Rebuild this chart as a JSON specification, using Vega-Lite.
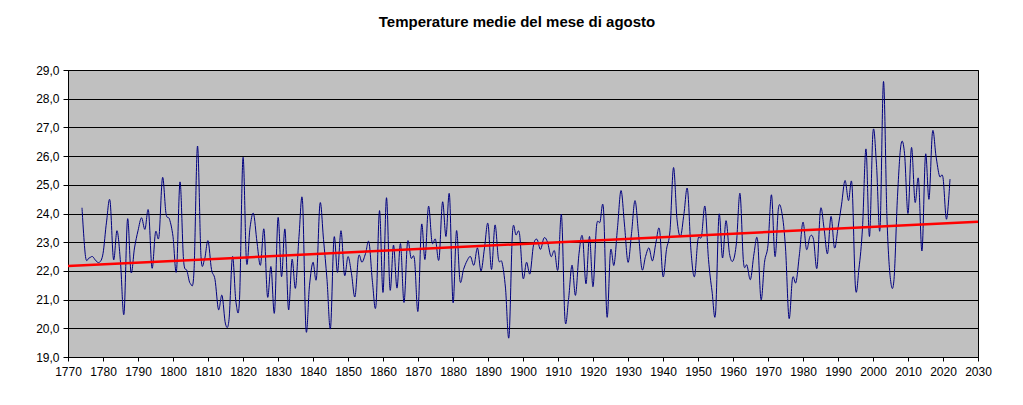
{
"$schema": "https://vega.github.io/schema/vega-lite/v6.json",
"width": 910,
"height": 287,
"autosize": {"type": "none"},
"padding": {"left": 68, "top": 70, "right": 45, "bottom": 48},
"background": "white",
"title": {"text": "Temperature medie del mese di agosto", "fontSize": 15, "fontWeight": "bold", "font": "Liberation Sans", "color": "#000000", "anchor": "middle", "frame": "group", "offset": 34, "dx": -6},
"config": {
  "view": {"fill": "#C0C0C0", "stroke": "#000000", "strokeWidth": 1},
  "axis": {"labelFont": "Liberation Sans", "labelFontSize": 12, "labelColor": "#000000", "domainColor": "#000000", "tickColor": "#000000", "title": null}
},
"datasets": {
"temps": [
{"year":1774,"temp":24.2},{"year":1775,"temp":22.5},{"year":1776,"temp":22.45},{"year":1777,"temp":22.5},{"year":1778,"temp":22.35},{"year":1779,"temp":22.3},
{"year":1780,"temp":22.6},{"year":1781,"temp":23.7},{"year":1782,"temp":24.45},{"year":1783,"temp":22.4},{"year":1784,"temp":23.4},{"year":1785,"temp":22.3},{"year":1786,"temp":20.5},{"year":1787,"temp":23.8},{"year":1788,"temp":21.95},{"year":1789,"temp":22.8},
{"year":1790,"temp":23.4},{"year":1791,"temp":23.85},{"year":1792,"temp":23.45},{"year":1793,"temp":24.1},{"year":1794,"temp":22.1},{"year":1795,"temp":23.35},{"year":1796,"temp":23.2},{"year":1797,"temp":25.25},{"year":1798,"temp":24.0},{"year":1799,"temp":23.8},
{"year":1800,"temp":23.2},{"year":1801,"temp":22.0},{"year":1802,"temp":25.1},{"year":1803,"temp":22.4},{"year":1804,"temp":22.0},{"year":1805,"temp":21.55},{"year":1806,"temp":22.0},{"year":1807,"temp":26.35},{"year":1808,"temp":22.5},{"year":1809,"temp":22.4},
{"year":1810,"temp":23.05},{"year":1811,"temp":22.05},{"year":1812,"temp":21.7},{"year":1813,"temp":20.65},{"year":1814,"temp":21.15},{"year":1815,"temp":20.15},{"year":1816,"temp":20.3},{"year":1817,"temp":22.5},{"year":1818,"temp":20.9},{"year":1819,"temp":21.0},
{"year":1820,"temp":25.95},{"year":1821,"temp":22.3},{"year":1822,"temp":23.5},{"year":1823,"temp":24.0},{"year":1824,"temp":23.0},{"year":1825,"temp":22.2},{"year":1826,"temp":23.45},{"year":1827,"temp":21.1},{"year":1828,"temp":22.15},{"year":1829,"temp":20.55},
{"year":1830,"temp":23.85},{"year":1831,"temp":21.8},{"year":1832,"temp":23.45},{"year":1833,"temp":20.65},{"year":1834,"temp":22.4},{"year":1835,"temp":21.4},{"year":1836,"temp":23.2},{"year":1837,"temp":24.45},{"year":1838,"temp":19.95},{"year":1839,"temp":21.5},
{"year":1840,"temp":22.3},{"year":1841,"temp":21.75},{"year":1842,"temp":24.35},{"year":1843,"temp":23.1},{"year":1844,"temp":21.7},{"year":1845,"temp":20.0},{"year":1846,"temp":23.15},{"year":1847,"temp":21.95},{"year":1848,"temp":23.4},{"year":1849,"temp":21.85},
{"year":1850,"temp":22.5},{"year":1851,"temp":21.9},{"year":1852,"temp":21.1},{"year":1853,"temp":22.5},{"year":1854,"temp":22.3},{"year":1855,"temp":22.6},{"year":1856,"temp":23.0},{"year":1857,"temp":21.6},{"year":1858,"temp":20.8},{"year":1859,"temp":24.1},
{"year":1860,"temp":21.25},{"year":1861,"temp":24.55},{"year":1862,"temp":21.35},{"year":1863,"temp":22.9},{"year":1864,"temp":21.4},{"year":1865,"temp":22.95},{"year":1866,"temp":20.9},{"year":1867,"temp":23.0},{"year":1868,"temp":22.45},{"year":1869,"temp":22.4},
{"year":1870,"temp":20.6},{"year":1871,"temp":23.6},{"year":1872,"temp":22.4},{"year":1873,"temp":24.25},{"year":1874,"temp":23.0},{"year":1875,"temp":23.1},{"year":1876,"temp":22.4},{"year":1877,"temp":24.4},{"year":1878,"temp":23.2},{"year":1879,"temp":24.65},
{"year":1880,"temp":20.9},{"year":1881,"temp":23.4},{"year":1882,"temp":21.65},{"year":1883,"temp":22.05},{"year":1884,"temp":22.35},{"year":1885,"temp":22.5},{"year":1886,"temp":22.2},{"year":1887,"temp":22.8},{"year":1888,"temp":22.0},{"year":1889,"temp":22.8},
{"year":1890,"temp":23.65},{"year":1891,"temp":22.05},{"year":1892,"temp":23.6},{"year":1893,"temp":22.4},{"year":1894,"temp":22.3},{"year":1895,"temp":21.4},{"year":1896,"temp":19.7},{"year":1897,"temp":23.35},{"year":1898,"temp":23.25},{"year":1899,"temp":23.3},
{"year":1900,"temp":21.75},{"year":1901,"temp":22.3},{"year":1902,"temp":21.9},{"year":1903,"temp":22.9},{"year":1904,"temp":23.1},{"year":1905,"temp":22.75},{"year":1906,"temp":23.15},{"year":1907,"temp":23.0},{"year":1908,"temp":22.5},{"year":1909,"temp":22.7},
{"year":1910,"temp":22.05},{"year":1911,"temp":23.95},{"year":1912,"temp":20.3},{"year":1913,"temp":21.0},{"year":1914,"temp":22.2},{"year":1915,"temp":21.15},{"year":1916,"temp":22.6},{"year":1917,"temp":23.2},{"year":1918,"temp":21.55},{"year":1919,"temp":23.2},
{"year":1920,"temp":21.45},{"year":1921,"temp":23.55},{"year":1922,"temp":23.7},{"year":1923,"temp":24.15},{"year":1924,"temp":20.4},{"year":1925,"temp":22.7},{"year":1926,"temp":22.2},{"year":1927,"temp":23.5},{"year":1928,"temp":24.8},{"year":1929,"temp":23.6},
{"year":1930,"temp":22.3},{"year":1931,"temp":23.3},{"year":1932,"temp":24.45},{"year":1933,"temp":23.3},{"year":1934,"temp":22.05},{"year":1935,"temp":22.5},{"year":1936,"temp":22.8},{"year":1937,"temp":22.35},{"year":1938,"temp":23.0},{"year":1939,"temp":23.45},
{"year":1940,"temp":21.8},{"year":1941,"temp":22.75},{"year":1942,"temp":23.4},{"year":1943,"temp":25.6},{"year":1944,"temp":23.8},{"year":1945,"temp":23.2},{"year":1946,"temp":24.0},{"year":1947,"temp":24.85},{"year":1948,"temp":22.7},{"year":1949,"temp":21.8},
{"year":1950,"temp":23.1},{"year":1951,"temp":23.2},{"year":1952,"temp":24.25},{"year":1953,"temp":22.4},{"year":1954,"temp":21.3},{"year":1955,"temp":20.5},{"year":1956,"temp":23.95},{"year":1957,"temp":22.45},{"year":1958,"temp":23.75},{"year":1959,"temp":22.6},
{"year":1960,"temp":22.35},{"year":1961,"temp":23.0},{"year":1962,"temp":24.7},{"year":1963,"temp":22.3},{"year":1964,"temp":22.2},{"year":1965,"temp":21.7},{"year":1966,"temp":22.6},{"year":1967,"temp":23.1},{"year":1968,"temp":21.0},{"year":1969,"temp":22.3},
{"year":1970,"temp":22.9},{"year":1971,"temp":24.65},{"year":1972,"temp":22.5},{"year":1973,"temp":24.2},{"year":1974,"temp":24.0},{"year":1975,"temp":22.8},{"year":1976,"temp":20.35},{"year":1977,"temp":21.75},{"year":1978,"temp":21.6},{"year":1979,"temp":22.6},
{"year":1980,"temp":23.7},{"year":1981,"temp":22.75},{"year":1982,"temp":23.2},{"year":1983,"temp":23.1},{"year":1984,"temp":22.1},{"year":1985,"temp":24.15},{"year":1986,"temp":23.5},{"year":1987,"temp":22.6},{"year":1988,"temp":23.9},{"year":1989,"temp":22.8},
{"year":1990,"temp":23.5},{"year":1991,"temp":24.3},{"year":1992,"temp":25.15},{"year":1993,"temp":24.45},{"year":1994,"temp":25.0},{"year":1995,"temp":21.4},{"year":1996,"temp":22.1},{"year":1997,"temp":23.5},{"year":1998,"temp":26.25},{"year":1999,"temp":23.2},
{"year":2000,"temp":26.85},{"year":2001,"temp":25.7},{"year":2002,"temp":23.45},{"year":2003,"temp":28.6},{"year":2004,"temp":23.8},{"year":2005,"temp":21.7},{"year":2006,"temp":21.7},{"year":2007,"temp":24.6},{"year":2008,"temp":26.4},{"year":2009,"temp":26.1},
{"year":2010,"temp":24.0},{"year":2011,"temp":26.3},{"year":2012,"temp":24.4},{"year":2013,"temp":25.2},{"year":2014,"temp":22.7},{"year":2015,"temp":26.05},{"year":2016,"temp":24.5},{"year":2017,"temp":26.85},{"year":2018,"temp":26.0},{"year":2019,"temp":25.3},
{"year":2020,"temp":25.25},{"year":2021,"temp":23.8},{"year":2022,"temp":25.2}
],
"trend": [{"year":1770,"temp":22.17},{"year":2030,"temp":23.71}]
},
"encoding": {
  "x": {"field": "year", "type": "quantitative", "scale": {"domain": [1770, 2030], "nice": false, "zero": false},
        "axis": {"values": [1770,1780,1790,1800,1810,1820,1830,1840,1850,1860,1870,1880,1890,1900,1910,1920,1930,1940,1950,1960,1970,1980,1990,2000,2010,2020,2030], "format": "d", "grid": false, "tickSize": 4, "labelPadding": 5, "labelFlush": false, "labelOverlap": false}},
  "y": {"field": "temp", "type": "quantitative", "scale": {"domain": [19, 29], "nice": false, "zero": false},
        "axis": {"values": [19,20,21,22,23,24,25,26,27,28,29], "labelExpr": "replace(format(datum.value, '.1f'), '.', ',')", "grid": true, "gridColor": "#000000", "gridWidth": 1, "gridOpacity": 1, "tickSize": 5, "labelPadding": 4, "labelOverlap": false}}
},
"layer": [
{
  "data": {"name": "temps"},
  "mark": {"type": "line", "interpolate": "cardinal", "color": "#000080", "strokeWidth": 1, "clip": true}
},
{
  "data": {"name": "trend"},
  "mark": {"type": "line", "color": "#FF0000", "strokeWidth": 2.5}
}
]
}
